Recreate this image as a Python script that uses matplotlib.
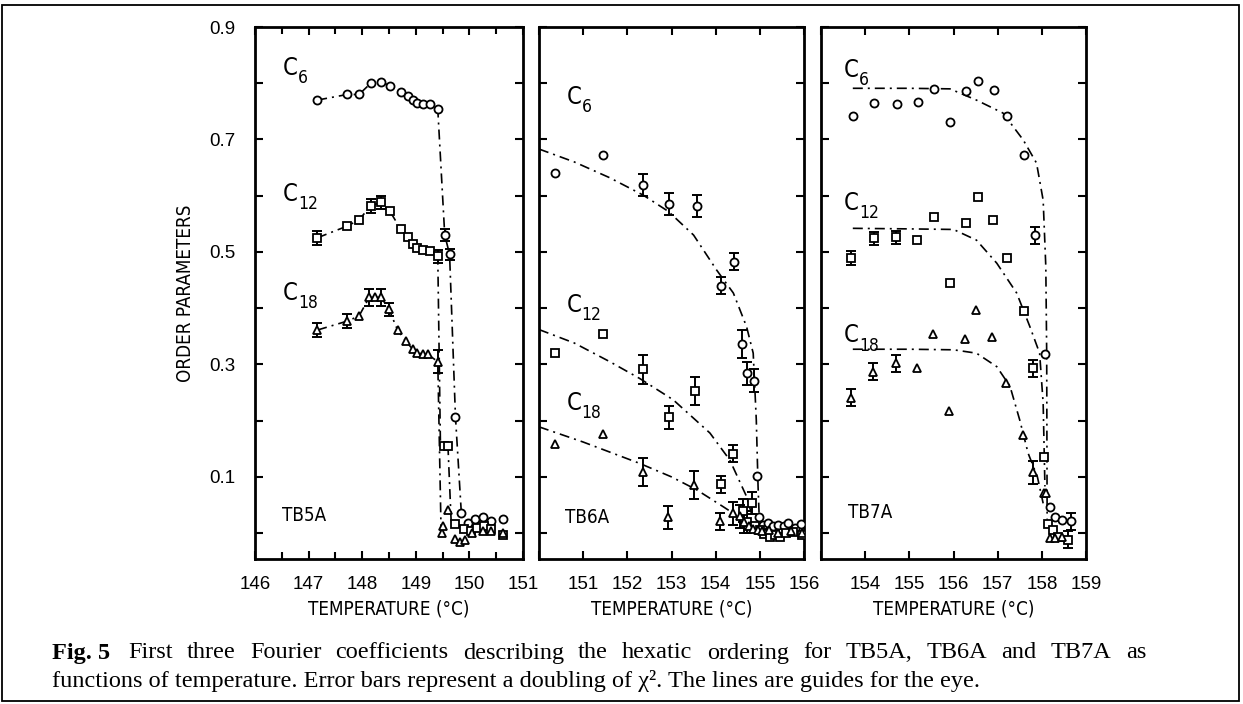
import numpy as np
import matplotlib
matplotlib.use("Agg")
import matplotlib.pyplot as plt
from matplotlib import font_manager
from matplotlib.patches import Rectangle

# ---- data ----
# TB5A
t5_c6_x = [147.16, 147.72, 147.94, 148.16, 148.35, 148.52, 148.72, 148.85, 148.94, 149.03, 149.14, 149.27, 149.41,
           149.54, 149.63, 149.74, 149.85, 149.97, 150.10, 150.25, 150.41, 150.63]
t5_c6_y = [0.770, 0.780, 0.780, 0.800, 0.803, 0.795, 0.785, 0.777, 0.771, 0.764, 0.763, 0.763, 0.754,
           0.530, 0.496, 0.207, 0.035, 0.018, 0.025, 0.028, 0.022, 0.025]
t5_c6_e = [0] * 13 + [0.01, 0.01] + [0] * 7
t5_c12_x = [147.16, 147.72, 147.94, 148.16, 148.35, 148.52, 148.72, 148.85, 148.94, 149.03, 149.14, 149.27, 149.41,
            149.53, 149.61, 149.74, 149.90, 150.03, 150.15, 150.28, 150.41, 150.63]
t5_c12_y = [0.525, 0.546, 0.557, 0.582, 0.588, 0.572, 0.540, 0.526, 0.514, 0.507, 0.504, 0.501, 0.492,
            0.155, 0.155, 0.016, 0.008, 0.003, 0.010, 0.012, 0.008, -0.003]
t5_c12_e = [0.012, 0, 0, 0.012, 0.012, 0, 0, 0, 0, 0, 0, 0, 0.012] + [0] * 9
t5_c18_x = [147.16, 147.72, 147.94, 148.13, 148.23, 148.35, 148.50, 148.66, 148.81, 148.94, 149.03, 149.13, 149.22, 149.41,
            149.49, 149.50, 149.61, 149.74, 149.83, 149.92, 150.05, 150.25, 150.41, 150.63]
t5_c18_y = [0.361, 0.377, 0.386, 0.419, 0.419, 0.419, 0.398, 0.361, 0.342, 0.327, 0.320, 0.319, 0.318, 0.305,
            0.001, 0.012, 0.041, -0.011, -0.015, -0.012, 0.000, 0.003, 0.003, 0.000]
t5_c18_e = [0.012, 0.012, 0, 0.015, 0, 0.015, 0.012, 0, 0, 0, 0, 0, 0, 0.02] + [0] * 10
t5_g6_x = t5_c6_x[:17]
t5_g6_y = t5_c6_y[:17]
t5_g12_x = t5_c12_x[:13] + [149.46, 149.60, 149.66]
t5_g12_y = t5_c12_y[:13] + [0.155, 0.155, 0.020]
t5_g18_x = t5_c18_x[:14] + [149.47]
t5_g18_y = t5_c18_y[:14] + [0.012]

# TB6A
t6_c6_x = [150.36, 151.46, 152.36, 152.95, 153.57, 154.13, 154.42, 154.59, 154.70, 154.86, 154.94,
           154.98, 155.08, 155.18, 155.30, 155.41, 155.55, 155.64, 155.80, 155.94]
t6_c6_y = [0.641, 0.672, 0.619, 0.585, 0.582, 0.440, 0.483, 0.336, 0.284, 0.271, 0.102,
           0.028, 0.015, 0.018, 0.012, 0.015, 0.012, 0.018, 0.010, 0.016]
t6_c6_e = [0, 0, 0.02, 0.02, 0.02, 0.015, 0.015, 0.025, 0.02, 0.02, 0] + [0] * 9
t6_c12_x = [150.36, 151.46, 152.36, 152.95, 153.53, 154.11, 154.40, 154.62, 154.72, 154.83,
            154.90, 155.00, 155.10, 155.22, 155.34, 155.45, 155.60, 155.75, 155.95]
t6_c12_y = [0.321, 0.354, 0.291, 0.206, 0.252, 0.087, 0.141, 0.040, 0.020, 0.054,
            0.012, 0.005, -0.002, -0.006, -0.003, -0.006, 0.000, 0.002, -0.003]
t6_c12_e = [0, 0, 0.025, 0.02, 0.025, 0.015, 0.015, 0.02, 0.02, 0.02] + [0] * 9
t6_c18_x = [150.36, 151.44, 152.36, 152.93, 153.51, 154.10, 154.40, 154.55, 154.65, 154.75,
            154.85, 154.95, 155.05, 155.20, 155.40, 155.70, 155.95]
t6_c18_y = [0.159, 0.176, 0.109, 0.028, 0.085, 0.021, 0.035, 0.030, 0.020, 0.012,
            0.008, 0.005, 0.003, 0.005, 0.000, 0.003, 0.000]
t6_c18_e = [0, 0, 0.025, 0.02, 0.025, 0.015, 0.02, 0.02, 0.02] + [0] * 8
t6_g6_x = [150.00, 150.80, 151.60, 152.36, 152.93, 153.50, 154.02, 154.40, 154.70, 154.85, 154.92, 154.96, 154.99]
t6_g6_y = [0.683, 0.660, 0.632, 0.601, 0.572, 0.530, 0.468, 0.427, 0.367, 0.320, 0.201, 0.083, 0.020]
t6_g12_x = [150.00, 150.80, 151.60, 152.28, 153.04, 153.87, 154.32, 154.70, 154.81]
t6_g12_y = [0.362, 0.338, 0.305, 0.275, 0.237, 0.178, 0.130, 0.065, 0.035]
t6_g18_x = [150.00, 151.00, 152.28, 153.00, 153.57, 154.17, 154.62]
t6_g18_y = [0.189, 0.162, 0.124, 0.100, 0.077, 0.047, 0.024]

# TB7A
t7_c6_x = [153.72, 154.21, 154.71, 155.19, 155.56, 155.92, 156.28, 156.55, 156.91, 157.22, 157.60, 157.84, 158.07,
           158.18, 158.29, 158.45, 158.66]
t7_c6_y = [0.741, 0.765, 0.763, 0.767, 0.789, 0.731, 0.787, 0.804, 0.788, 0.742, 0.672, 0.530, 0.318,
           0.047, 0.029, 0.024, 0.021]
t7_c6_e = [0] * 11 + [0.015, 0] + [0, 0, 0, 0.015]
t7_c12_x = [153.69, 154.20, 154.70, 155.18, 155.56, 155.92, 156.28, 156.55, 156.90, 157.22, 157.59, 157.81, 158.04,
            158.14, 158.25, 158.37, 158.60]
t7_c12_y = [0.489, 0.524, 0.526, 0.521, 0.563, 0.445, 0.552, 0.597, 0.557, 0.490, 0.395, 0.293, 0.136,
            0.016, 0.005, -0.007, -0.012]
t7_c12_e = [0.012, 0.012, 0.012] + [0] * 8 + [0.015, 0] + [0, 0, 0, 0.015]
t7_c18_x = [153.68, 154.17, 154.70, 155.17, 155.54, 155.90, 156.26, 156.52, 156.88, 157.19, 157.58, 157.81, 158.04,
            158.09, 158.18, 158.30, 158.45]
t7_c18_y = [0.241, 0.287, 0.302, 0.294, 0.354, 0.218, 0.345, 0.397, 0.349, 0.267, 0.175, 0.108, 0.071,
            0.071, -0.009, -0.008, -0.006]
t7_c18_e = [0.015, 0.015, 0.015] + [0] * 8 + [0.02, 0] + [0] * 4
t7_g6_x = [153.72, 155.00, 155.92, 156.52, 157.12, 157.58, 157.88, 158.03, 158.09, 158.11, 158.12]
t7_g6_y = [0.791, 0.791, 0.790, 0.770, 0.747, 0.699, 0.658, 0.592, 0.474, 0.320, 0.024]
t7_g12_x = [153.72, 155.00, 156.00, 156.52, 156.98, 157.43, 157.73, 157.95, 158.03, 158.07]
t7_g12_y = [0.542, 0.541, 0.540, 0.521, 0.480, 0.427, 0.367, 0.320, 0.231, 0.083]
t7_g18_x = [153.72, 155.00, 156.00, 156.52, 156.98, 157.28, 157.50, 157.69, 157.90, 158.03]
t7_g18_y = [0.327, 0.327, 0.326, 0.320, 0.296, 0.261, 0.201, 0.142, 0.100, 0.053]

panels = [
    dict(name="TB5A", xlim=(146, 151), ticks=range(146, 152), minor=np.arange(146, 151.01, 0.5),
         hide_first=False,
         series=[(t5_c6_x, t5_c6_y, t5_c6_e, "o"), (t5_c12_x, t5_c12_y, t5_c12_e, "s"),
                 (t5_c18_x, t5_c18_y, t5_c18_e, "^")],
         guides=[(t5_g6_x, t5_g6_y), (t5_g12_x, t5_g12_y), (t5_g18_x, t5_g18_y)],
         labels=[(146.52, 0.827), (146.52, 0.603), (146.52, 0.427)], name_pos=(146.5, 0.031)),
    dict(name="TB6A", xlim=(150, 156), ticks=range(150, 157), minor=None, hide_first=True,
         series=[(t6_c6_x, t6_c6_y, t6_c6_e, "o"), (t6_c12_x, t6_c12_y, t6_c12_e, "s"),
                 (t6_c18_x, t6_c18_y, t6_c18_e, "^")],
         guides=[(t6_g6_x, t6_g6_y), (t6_g12_x, t6_g12_y), (t6_g18_x, t6_g18_y)],
         labels=[(150.62, 0.776), (150.62, 0.406), (150.62, 0.232)], name_pos=(150.59, 0.027)),
    dict(name="TB7A", xlim=(153, 159), ticks=range(153, 160), minor=None, hide_first=True,
         series=[(t7_c6_x, t7_c6_y, t7_c6_e, "o"), (t7_c12_x, t7_c12_y, t7_c12_e, "s"),
                 (t7_c18_x, t7_c18_y, t7_c18_e, "^")],
         guides=[(t7_g6_x, t7_g6_y), (t7_g12_x, t7_g12_y), (t7_g18_x, t7_g18_y)],
         labels=[(153.52, 0.824), (153.52, 0.587), (153.52, 0.352)], name_pos=(153.61, 0.036)),
]
coef_names = ["6", "12", "18"]
ylim = (-0.046, 0.9)

# narrow font for the axis texts, if one is installed
fonts = font_manager.fontManager.ttflist
names = {f.name for f in fonts}
if "Liberation Sans Narrow" in names:
    nfont = dict(family="Liberation Sans Narrow")
elif any(f.name == "DejaVu Sans" and f.stretch == "condensed" for f in fonts):
    nfont = dict(family="DejaVu Sans", stretch="condensed")
else:
    nfont = dict(family="Liberation Sans")
plt.rcParams["font.family"] = ["Liberation Sans", "DejaVu Sans"]

fig = plt.figure(figsize=(12.43, 7.04), dpi=100)
fig.patches.append(Rectangle((2 / 1243, 3 / 704), 1237 / 1243, 696 / 704, transform=fig.transFigure,
                             fill=False, lw=1.3, ec="black"))

lefts = [255, 539, 821]
widths = [268, 265, 265]
for i, p in enumerate(panels):
    ax = fig.add_axes([lefts[i] / 1243, 1 - 559 / 704, widths[i] / 1243, 532 / 704])
    ax.set_xlim(*p["xlim"])
    ax.set_ylim(*ylim)
    for sp in ax.spines.values():
        sp.set_linewidth(2.0)
    ax.set_xticks(list(p["ticks"]))
    xl = [str(t) for t in p["ticks"]]
    if p["hide_first"]:
        xl[0] = ""
    ax.set_xticklabels(xl)
    if p["minor"] is not None:
        ax.set_xticks(p["minor"], minor=True)
    ax.set_yticks(np.round(np.arange(0, 0.91, 0.1), 1))
    if i == 0:
        ax.set_yticklabels(["" if k % 2 == 0 else f"{v:.1f}" for k, v in enumerate(np.arange(0, 0.91, 0.1))])
        ax.set_ylabel("ORDER PARAMETERS", fontsize=13.5, labelpad=10, **nfont)
    else:
        ax.set_yticklabels([])
    ax.tick_params(which="both", direction="in", top=True, right=True, width=1.5, labelsize=13.5)
    ax.tick_params(which="major", length=6)
    ax.tick_params(which="minor", length=5)
    ax.tick_params(axis="x", pad=12)
    ax.tick_params(axis="y", pad=14)
    ax.set_xlabel("TEMPERATURE (°C)", fontsize=13.5, labelpad=5, **nfont)

    for gx, gy in p["guides"]:
        ax.plot(gx, gy, color="black", lw=1.2, ls=(0, (6, 3, 1.2, 3)), zorder=2)
    for (x, y, e, m) in p["series"]:
        x = np.array(x); y = np.array(y); e = np.array(e)
        k = e > 0
        if k.any():
            ax.errorbar(x[k], y[k], yerr=e[k], fmt="none", ecolor="black", elinewidth=1.4,
                        capsize=3.5, capthick=1.4, zorder=3)
        ms = 5.8 if m == "o" else (5.2 if m == "s" else 6)
        ax.plot(x, y, m, ms=ms, mfc="white", mec="black", mew=1.3, ls="none", zorder=4)
    for (lx, ly), nm in zip(p["labels"], coef_names):
        ax.annotate("C", (lx, ly), fontsize=17, va="center", ha="left", **nfont)
        ax.annotate(nm, (lx, ly), xytext=(11, -7.5), textcoords="offset points", fontsize=12.5,
                    va="center", ha="left", **nfont)
    ax.text(p["name_pos"][0], p["name_pos"][1], p["name"], fontsize=13.5, va="center", ha="left", **nfont)

# caption, first line justified between the margins like the printed text
cap_size = 17.5
serif = "Liberation Serif"
y1 = 1 - 653 / 704
y2 = 1 - 681 / 704
fig.text(52 / 1243, y1, "Fig. 5", family=serif, weight="bold", fontsize=cap_size, va="center", ha="left")
line1 = "First three Fourier coefficients describing the hexatic ordering for TB5A, TB6A and TB7A as"
line2 = "functions of temperature. Error bars represent a doubling of χ². The lines are guides for the eye."
renderer = fig.canvas.get_renderer()
words = line1.split()
wtexts = [fig.text(0, y1, w, family=serif, fontsize=cap_size, va="center", ha="left") for w in words]
wwidths = [t.get_window_extent(renderer).width for t in wtexts]
x0, x1 = 128, 1146
gap = (x1 - x0 - sum(wwidths)) / (len(words) - 1)
xp = x0
for t, w in zip(wtexts, wwidths):
    t.set_x(xp / 1243)
    xp += w + gap
fig.text(52 / 1243, y2, line2, family=serif, fontsize=cap_size, va="center", ha="left")

fig.savefig("out.png", dpi=100)
